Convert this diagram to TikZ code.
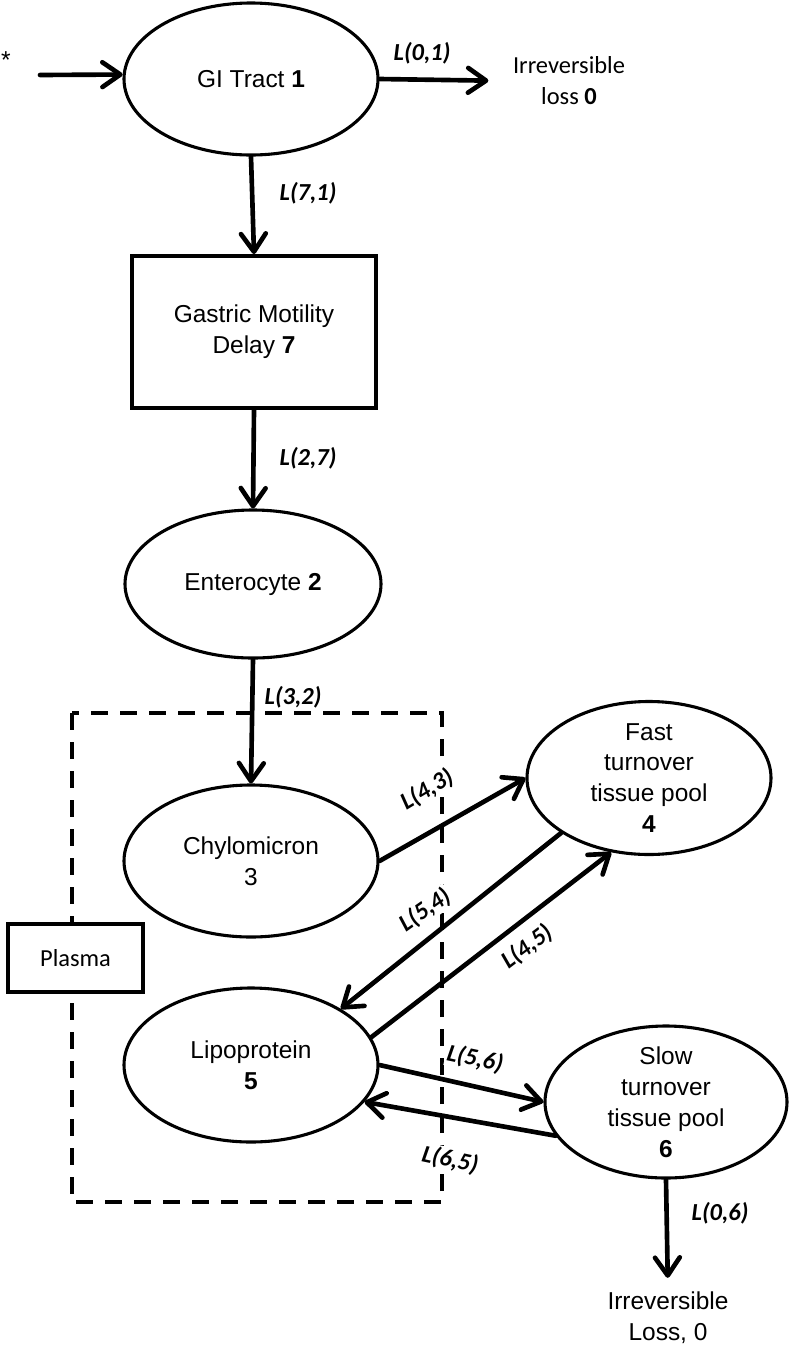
\documentclass[tikz,border=0pt]{standalone}
\usepackage{fontspec}
\setmainfont{Liberation Sans}
\newfontfamily\calfont{Carlito}
\usetikzlibrary{shapes.geometric,arrows.meta}

\newcommand\fsz{\fontsize{17.4}{22}\selectfont}

\tikzset{
  pool/.style={ellipse, draw, line width=2.2pt, minimum width=6.35cm, minimum height=3.8cm, inner sep=-1cm, align=center},
  flow/.style={line width=3.3pt, line cap=round, -{Straight Barb[length=0.45cm,width=0.62cm,round]}},
  lab/.style={font=\calfont\fsz\bfseries\itshape, inner sep=1pt, fill=white},
  sink/.style={align=center, inner sep=0pt},
  zone/.style={line width=2.8pt, dash pattern=on 0.425cm off 0.3cm}
}

\begin{document}
\begin{tikzpicture}[font=\fsz]
        \useasboundingbox (0,0) rectangle (19.825,-33.675);

        % plasma compartment
        \draw[zone] (1.8,-17.825) rectangle (11.05,-30.05);
        \node[draw, fill=white, line width=2.8pt, minimum width=3.375cm, minimum height=1.7cm, font=\calfont\fsz] (plasma) at (1.8875,-23.95) {Plasma};

        % rate labels
        \node[lab] (l01) at (10.55,-1.325) {L(0,1)};
        \node[lab] (l71) at (7.7,-4.825) {L(7,1)};
        \node[lab] (l27) at (7.7,-11.45) {L(2,7)};
        \node[lab] (l32) at (7.325,-17.425) {L(3,2)};
        \node[lab, rotate=31] (l43) at (10.675,-19.75) {L(4,3)};
        \node[lab, rotate=35] (l54) at (10.625,-22.75) {L(5,4)};
        \node[lab, rotate=37] (l45) at (13.175,-23.675) {L(4,5)};
        \node[lab, rotate=-12] (l56) at (11.875,-26.475) {L(5,6)};
        \node[lab, rotate=-12] (l65) at (11.25,-29.0) {L(6,5)};
        \node[lab] (l06) at (18.0,-30.325) {L(0,6)};

        % pools
        \node[pool] (gi) at (6.275,-1.975) {GI Tract \textbf{1}};
        \node[draw, line width=2.8pt, minimum width=6.1cm, minimum height=3.8cm, align=center] (delay) at (6.35,-8.3) {Gastric Motility\\Delay \textbf{7}};
        \node[pool, minimum width=6.4cm, minimum height=3.7cm] (ent) at (6.325,-14.6) {Enterocyte \textbf{2}};
        \node[pool] (chy) at (6.275,-21.525) {Chylomicron\\3};
        \node[pool, minimum width=6.1cm, minimum height=3.825cm] (fast) at (16.225,-19.45) {Fast\\turnover\\tissue pool\\\textbf{4}};
        \node[pool, minimum height=3.85cm] (lipo) at (6.275,-26.625) {Lipoprotein\\\textbf{5}};
        \node[pool, minimum width=6.05cm] (slow) at (16.65,-27.55) {Slow\\turnover\\tissue pool\\\textbf{6}};

        % sources and sinks
        \node[inner sep=0pt] (star) at (0.15,-1.5) {*};
        \coordinate (src) at (1.0,-1.875);
        \node[sink, font=\calfont\fsz] (loss0) at (14.225,-2.025) {Irreversible\\loss \textbf{0}};
        \node[sink] (loss6) at (16.7,-32.95) {Irreversible\\Loss, 0};

        % flows
        \draw[flow] (src) -- (gi.178);
        \draw[flow, shorten >=0.61cm] (gi.east) -- (loss0.west);
        \draw[flow] (gi.south) -- (delay.north);
        \draw[flow] (delay.south) -- (ent.north);
        \draw[flow] (ent.south) -- (chy.north);
        \draw[flow] (chy.east) -- (fast.west);
        \draw[flow] (fast.212) -- (lipo.32);
        \draw[flow] (lipo.13) -- (fast.243);
        \draw[flow] (lipo.east) -- (slow.west);
        \draw[flow] (slow.197) -- (lipo.342);
        \draw[flow, shorten >=0.35cm] (slow.south) -- (loss6.north);
\end{tikzpicture}
\end{document}
